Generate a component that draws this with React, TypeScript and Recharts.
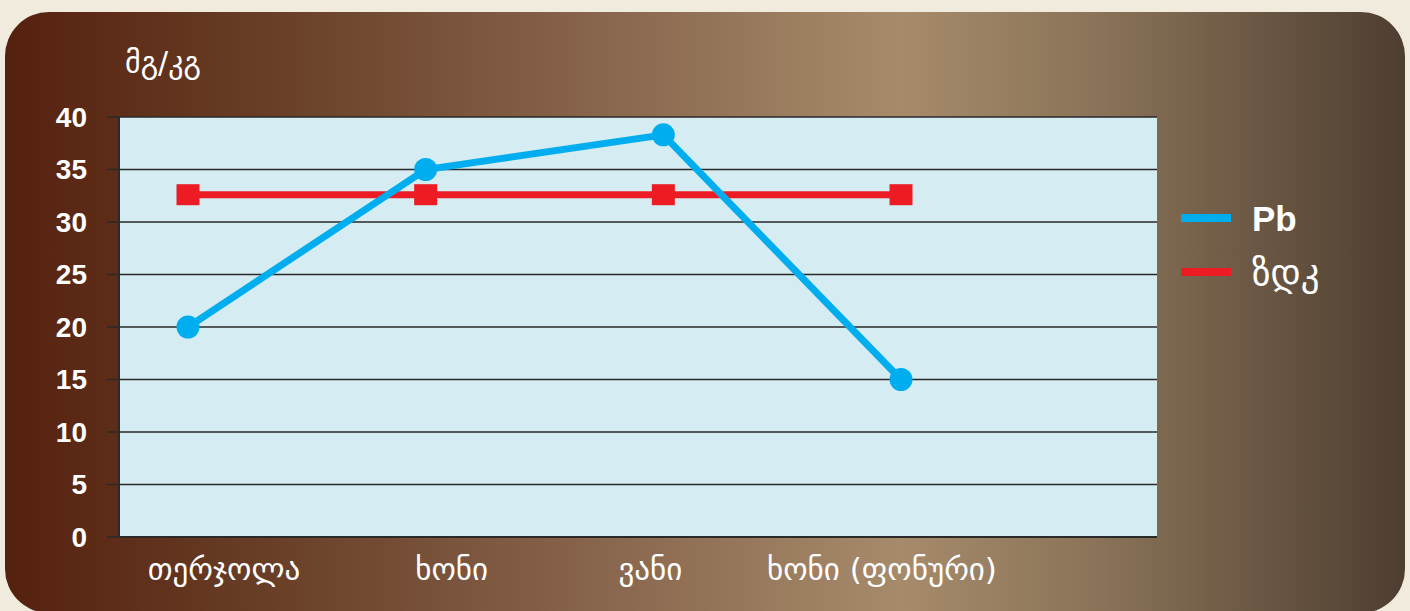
import { CartesianGrid, Legend, Line, LineChart, XAxis, YAxis } from "recharts";

// sites sampled along the line, plus the reference background one
const sites = ["თერჯოლა", "ხონი", "ვანი", "ხონი (ფონური)"];
// measured lead content, mg/kg
const pbValues = [20, 35, 38.3, 15];
// maximum allowed concentration (ზდკ), same at every site
const limitValues = [32.6, 32.6, 32.6, 32.6];
const yTicks = [0, 5, 10, 15, 20, 25, 30, 35, 40];
const seriesOrder = ["Pb", "ზდკ"];

const chartData = sites.map((site, i) => ({
  site,
  pb: pbValues[i],
  limit: limitValues[i],
}));

const BLUE = "#00aeef";
const RED = "#ed1c24";
const GRID = "#2a2a2a";
const GEO_FONT = "'DejaVu Sans', sans-serif";
const NUM_FONT = "'Liberation Sans', Arial, sans-serif";
// category labels sit a little off their points in this layout
const LABEL_NUDGE = [36, 26, -13, -19];

function SquareDot(props: any) {
  const { cx, cy, index } = props;
  if (cx == null || cy == null) return null;
  return <rect key={`sq-${index}`} x={cx - 11.5} y={cy - 10.5} width={23} height={21} fill={RED} />;
}

function SiteTick(props: any) {
  const { x, y, payload, index } = props;
  return (
    <text
      x={x + (LABEL_NUDGE[index] ?? 0)}
      y={y}
      dy="0.71em"
      textAnchor="middle"
      fill="#fff"
      fontSize={31}
      fontFamily={GEO_FONT}
    >
      {payload.value}
    </text>
  );
}

function LegendBox({ payload }: any) {
  const items = [...(payload ?? [])].sort(
    (a: any, b: any) => seriesOrder.indexOf(a.value) - seriesOrder.indexOf(b.value)
  );
  return (
    <div>
      {items.map((item: any) => (
        <div
          key={item.value}
          style={{ display: "flex", alignItems: "center", height: 54 }}
        >
          <span style={{ width: 50, height: 8, background: item.color, marginRight: 21 }} />
          <span
            style={{
              color: "#fff",
              fontFamily: item.value === "Pb" ? NUM_FONT : GEO_FONT,
              fontWeight: item.value === "Pb" ? 700 : 400,
              fontSize: item.value === "Pb" ? 35 : 37,
              lineHeight: 1,
            }}
          >
            {item.value}
          </span>
        </div>
      ))}
    </div>
  );
}

export default function App() {
  return (
    <div
      style={{
        position: "absolute",
        left: 0,
        top: 0,
        width: 1410,
        height: 611,
        overflow: "hidden",
        background: "#f0ebdc",
      }}
    >
      <div
        style={{
          position: "absolute",
          left: 5,
          top: 12,
          width: 1400,
          height: 601,
          borderRadius: 44,
          background:
            "linear-gradient(to right, #55210f 0%, #6a4028 20%, #85614a 40%, #a68b6b 64%, #8a7358 78%, #4e3e31 100%)",
        }}
      >
        <div
          style={{
            position: "absolute",
            left: 120,
            top: 33,
            color: "#fff",
            fontFamily: GEO_FONT,
            fontSize: 30,
          }}
        >
          მგ/კგ
        </div>
        <LineChart
          width={1400}
          height={600}
          data={chartData}
          margin={{ top: 105, right: 248, left: 0, bottom: 0 }}
        >
          <CartesianGrid
            vertical={false}
            fill="#d4ecf2"
            fillOpacity={1}
            stroke={GRID}
            strokeWidth={1.5}
          />
          <XAxis
            dataKey="site"
            height={75}
            padding={{ left: 69, right: 256 }}
            axisLine={{ stroke: GRID, strokeWidth: 2 }}
            tickLine={false}
            tickMargin={15}
            tick={<SiteTick />}
            interval={0}
          />
          <YAxis
            domain={[0, 40]}
            ticks={yTicks}
            width={114}
            axisLine={{ stroke: GRID, strokeWidth: 2 }}
            tickLine={{ stroke: GRID, strokeWidth: 1.5 }}
            tickSize={12}
            tickMargin={20}
            tick={{ fill: "#fff", fontSize: 28, fontWeight: 700, fontFamily: NUM_FONT }}
          />
          <YAxis
            yAxisId="frame"
            orientation="right"
            domain={[0, 40]}
            width={0}
            tick={false}
            tickLine={false}
            axisLine={{ stroke: GRID, strokeWidth: 2 }}
          />
          <Legend
            layout="horizontal"
            verticalAlign="middle"
            align="center"
            content={<LegendBox />}
            wrapperStyle={{ left: 1176, top: 179, width: 200 }}
          />
          <Line
            dataKey="limit"
            name="ზდკ"
            stroke={RED}
            strokeWidth={7}
            dot={<SquareDot />}
            activeDot={false}
            isAnimationActive={false}
          />
          <Line
            dataKey="pb"
            name="Pb"
            stroke={BLUE}
            strokeWidth={7}
            dot={{ r: 11.5, fill: BLUE, stroke: "none", strokeWidth: 0 }}
            activeDot={false}
            isAnimationActive={false}
          />
        </LineChart>
      </div>
    </div>
  );
}
